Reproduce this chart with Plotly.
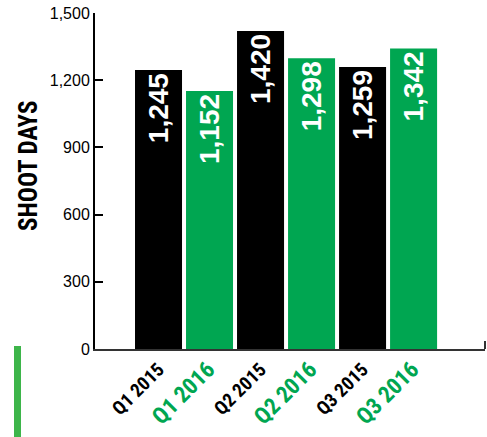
import plotly.graph_objects as go

categories = ["Q1 2015", "Q1 2016", "Q2 2015", "Q2 2016", "Q3 2015", "Q3 2016"]
values = [1245, 1152, 1420, 1298, 1259, 1342]
y_ticks = [0, 300, 600, 900, 1200, 1500]
y_tick_labels = ["0", "300", "600", "900", "1,200", "1,500"]

GREEN = "#00A651"
BLACK = "#000000"
bar_colors = [BLACK if "2015" in c else GREEN for c in categories]
NARROW = "Liberation Sans Narrow, Arial Narrow, Roboto Condensed, Liberation Sans, sans-serif"
SANS = "Liberation Sans, Arial, sans-serif"

L, T, PW, PH = 95, 13, 390, 336
W, H = 487, 437

def tick_html(c):
    if "2016" in c:
        return f"<span style='color:{GREEN};font-size:23px'><b>{c}</b></span>"
    return f"<span style='color:{BLACK};font-size:19px'><b>{c}</b></span>"

fig = go.Figure()
fig.add_trace(go.Bar(
    x=list(range(len(categories))),
    y=values,
    marker=dict(color=bar_colors, line=dict(width=0)),
    text=[f"{v:,}" for v in values],
    textposition="inside",
    insidetextanchor="end",
    textangle=-90,
    textfont=dict(color="white", size=28, family=SANS, weight="bold"),
    constraintext="none",
    cliponaxis=False,
    hoverinfo="skip",
))

fig.update_layout(
    width=W, height=H,
    margin=dict(l=L, r=W - L - PW, t=T, b=H - T - PH, autoexpand=False),
    plot_bgcolor="white", paper_bgcolor="white",
    showlegend=False,
    bargap=4 / 51,
    xaxis=dict(
        range=[-1.245, 6.4],
        tickmode="array",
        tickvals=list(range(len(categories))),
        ticktext=[tick_html(c) for c in categories],
        tickangle=-45,
        automargin=False,
        showline=True, linecolor="#333333", linewidth=2,
        showgrid=False, zeroline=False, ticks="",
        tickfont=dict(family=NARROW, size=19),
    ),
    yaxis=dict(
        range=[0, 1500],
        tickmode="array",
        tickvals=y_ticks,
        ticktext=y_tick_labels,
        automargin=False,
        ticklabeloverflow="allow",
        ticks="inside", ticklen=8, tickwidth=2, tickcolor="black",
        showline=True, linecolor="black", linewidth=2,
        showgrid=False, zeroline=False,
        tickfont=dict(family=SANS, size=16, color="black"),
    ),
    annotations=[dict(
        text="<b>SHOOT DAYS</b>", xref="paper", yref="paper",
        x=(28 - 95) / PW, y=(349 - 166) / PH, xanchor="center", yanchor="middle",
        textangle=-90, showarrow=False,
        font=dict(family=NARROW, size=25, color="black"),
    )],
    shapes=[
        dict(type="rect", xref="paper", yref="paper",
             x0=(14 - 95) / PW, x1=(21 - 95) / PW,
             y0=(349 - 440) / PH, y1=(349 - 346) / PH,
             fillcolor="#3DB54A", line=dict(width=0)),
        dict(type="line", xref="paper", yref="paper",
             x0=1, x1=1, y0=0, y1=8 / PH,
             line=dict(color="#333333", width=2)),
    ],
)

fig.write_html("out.html", config={"displayModeBar": False},
               post_script="document.body.style.margin='0';")
